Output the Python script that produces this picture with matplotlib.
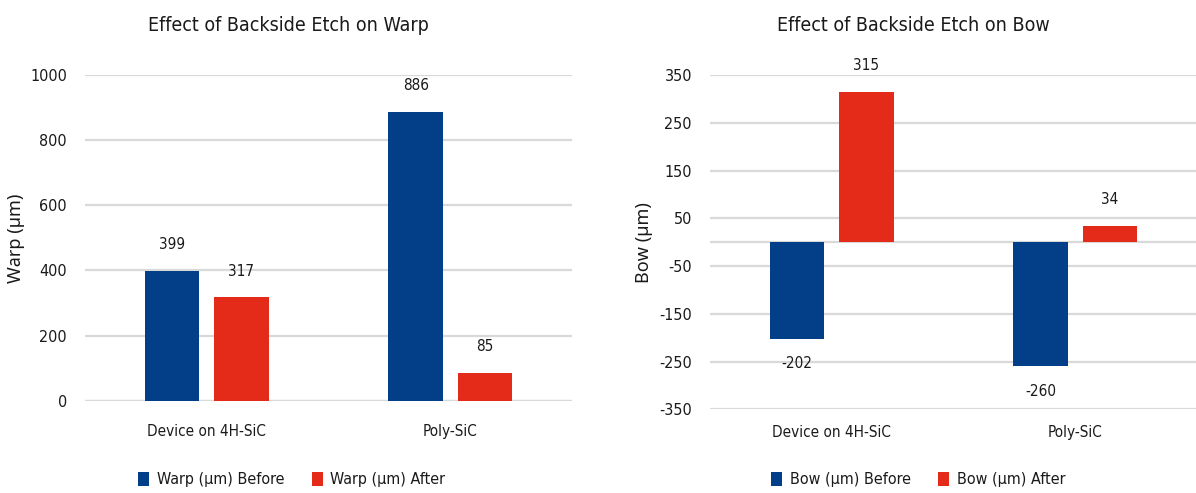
import matplotlib
matplotlib.use("Agg")
import numpy as np
import matplotlib.pyplot as plt

# data
categories = ["Device on 4H-SiC", "Poly-SiC"]
warp_before = [399, 886]
warp_after = [317, 85]
bow_before = [-202, -260]
bow_after = [315, 34]

warp_ticks = [0, 200, 400, 600, 800, 1000]
bow_ticks = [-350, -250, -150, -50, 50, 150, 250, 350]

BLUE = "#023f88"
RED = "#e42a18"
GRID = "#d9d9d9"
TXT = "#1a1a1a"

# condensed face for most of the text
plt.rcParams["font.family"] = "DejaVu Sans"
plt.rcParams["font.stretch"] = "condensed"

fig = plt.figure(figsize=(11.96, 4.93), dpi=100)
ax1 = fig.add_axes([0.0711, 0.1872, 0.4072, 0.6606])
ax2 = fig.add_axes([0.5936, 0.1698, 0.4072, 0.6780])

w = 0.224
off = w / 2 + 0.03
x = np.arange(len(categories))


def draw(ax, before, after, ticks, ylim, ylabel, lab_x, names_leg, leg_x):
    for t in ticks + [0]:
        ax.axhline(t, color=GRID, lw=1.6, zorder=0)
    b1 = ax.bar(x - off, before, w, color=BLUE, zorder=2, label=names_leg[0])
    b2 = ax.bar(x + off, after, w, color=RED, zorder=2, label=names_leg[1])
    for bars, vals in ((b1, before), (b2, after)):
        for r, v in zip(bars, vals):
            dy = 19 if v >= 0 else -18
            ax.annotate(str(v), (r.get_x() + r.get_width() / 2, v),
                        xytext=(0, dy), textcoords="offset points",
                        ha="center", va="center", fontsize=11, color=TXT)
    ax.set_xlim(-0.5, 1.5)
    ax.set_ylim(*ylim)
    ax.set_yticks(ticks)
    ax.set_yticklabels([str(t) for t in ticks])
    ax.set_xticks(x)
    ax.set_xticklabels(categories)
    for s in ax.spines.values():
        s.set_visible(False)
    ax.tick_params(axis="y", length=0, pad=13, labelsize=11.5, labelcolor=TXT)
    ax.set_ylabel(ylabel, family="Noto Sans", stretch="normal",
                  fontsize=13, color=TXT)
    ax.yaxis.set_label_coords(lab_x, 0.5)
    leg = ax.legend(loc="center", bbox_to_anchor=(leg_x, 0.027),
                    bbox_transform=fig.transFigure, ncol=2, frameon=False,
                    fontsize=11.5, handlelength=0.68, handleheight=0.95,
                    handletextpad=0.5, columnspacing=1.7)
    for t in leg.get_texts():
        t.set_color(TXT)


draw(ax1, warp_before, warp_after, warp_ticks, (0, 1000), "Warp (µm)",
     -0.123, ["Warp (µm) Before", "Warp (µm) After"], 0.244)
ax1.tick_params(axis="x", length=0, pad=17, labelsize=11, labelcolor=TXT)

draw(ax2, bow_before, bow_after, bow_ticks, (-350, 350), "Bow (µm)",
     -0.116, ["Bow (µm) Before", "Bow (µm) After"], 0.768)
ax2.tick_params(axis="x", length=0, pad=11, labelsize=11, labelcolor=TXT)

fig.text(0.241, 0.949, "Effect of Backside Etch on Warp", ha="center",
         va="center", fontsize=14, color=TXT)
fig.text(0.764, 0.949, "Effect of Backside Etch on Bow", ha="center",
         va="center", fontsize=14, color=TXT)

fig.savefig("out.png", dpi=100)
